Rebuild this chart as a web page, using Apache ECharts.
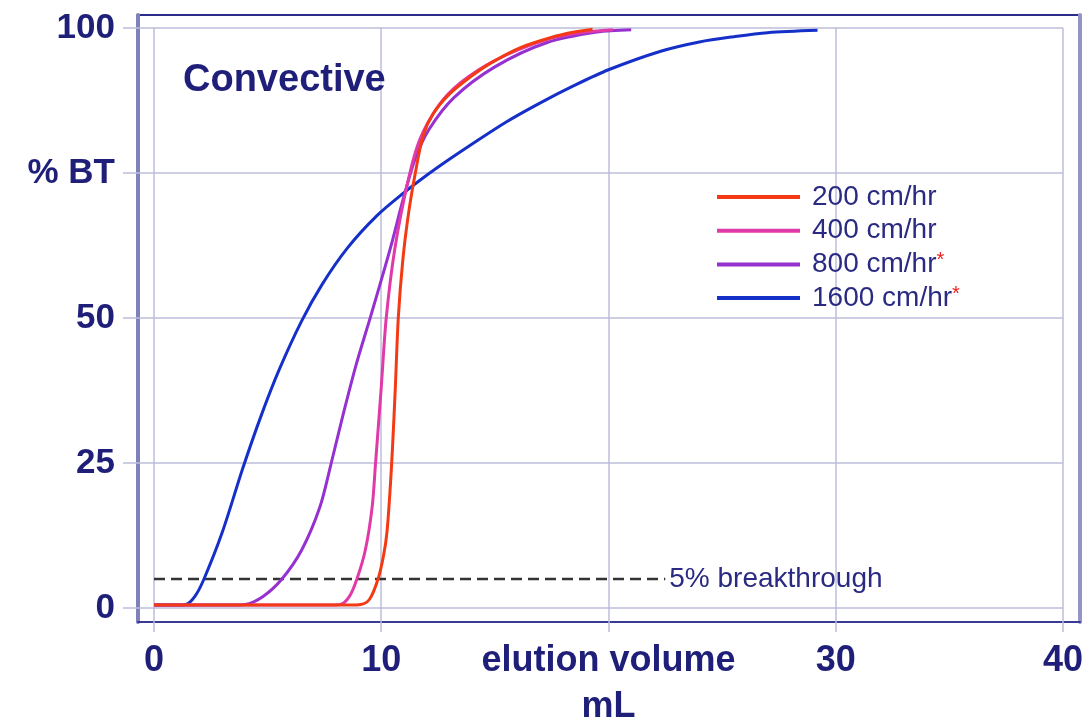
<!DOCTYPE html>
<html>
<head>
<meta charset="utf-8">
<script src="https://cdn.jsdelivr.net/npm/echarts@6/dist/echarts.min.js"></script>
<style>
html,body{margin:0;padding:0;background:#fff;}
#c{width:1084px;height:721px;}
</style>
</head>
<body>
<div id="c"></div>
<script>
// ---- data ----
const xTicks = [0, 10, 20, 30, 40];
const yTicks = [0, 25, 50, 75, 100];
const seriesNames = ['200 cm/hr', '400 cm/hr', '800 cm/hr', '1600 cm/hr'];
const starred = ['800 cm/hr', '1600 cm/hr'];

const red200 = [[0,0.5],[8.6,0.5],[9.1,0.6],[9.5,1.6],[9.86,5],[10.1,9],[10.25,13],[10.4,21],[10.5,28],[10.62,38],[10.75,50],[10.95,60],[11.2,68],[11.5,75],[11.85,81.5],[12.3,85.3],[13,88.6],[14,91.8],[14.8,93.9],[16,96.4],[17,97.8],[18.2,99.1],[19.3,99.8]];
const pink400 = [[0,0.5],[7.7,0.5],[8.2,0.6],[8.6,2],[8.93,5],[9.3,10],[9.6,17.4],[9.75,25],[10.0,38],[10.22,50],[10.6,62],[11.2,74],[11.7,80.8],[12.5,86.5],[13.5,90.6],[15,94.4],[17.2,97.9],[18.8,99.2],[20.2,99.7]];
const purple800 = [[0,0.5],[3.4,0.5],[4.0,0.6],[4.8,2],[5.63,5],[6.5,10],[7.3,17.4],[7.8,25],[8.3,33],[8.9,42],[9.55,50.5],[10.4,62],[11.0,71],[11.5,77.5],[12.1,82.5],[13.2,88],[15,93.3],[17.3,97.5],[19.5,99.3],[21,99.7]];
const blue1600 = [[0,0.5],[1.0,0.5],[1.4,0.6],[1.8,2],[2.2,5],[3,13],[3.9,24],[4.7,33],[5.5,41],[6.5,49.5],[7.4,55.8],[8.5,62],[9.8,67.6],[11,71.6],[12,74.6],[12.9,77.1],[14,80],[15.5,83.8],[17,87.1],[18.5,90.1],[20,92.8],[22.3,96],[24,97.6],[25.5,98.5],[27,99.2],[29.2,99.6]];
const breakthrough = [[0,5],[22.5,5]];
const breakthroughLabel = '5% breakthrough';
const panelTitle = 'Convective';
const xName = 'elution volume\nmL';
const yName = '% BT';

// axis extents (frame extends slightly beyond the data grid)
const XMIN = -0.704, XMAX = 40.75, YMIN = -2.41, YMAX = 102.24;

const navy = '#1f1f7a';
const gridColor = '#bcbcdb';
const colors = {'200 cm/hr':'#f43a14','400 cm/hr':'#e03aa8','800 cm/hr':'#9630d0','1600 cm/hr':'#1530c8'};

const gridLines = [];
xTicks.forEach(v => gridLines.push([{coord:[v, YMIN]}, {coord:[v, 100]}]));
yTicks.forEach(v => gridLines.push([{coord:[XMIN, v]}, {coord:[40, v]}]));

function curve(name, data, z) {
  return {
    name, type: 'line', data, z,
    showSymbol: false, smooth: 0.3,
    color: colors[name],
    lineStyle: {width: 3, color: colors[name]},
    emphasis: {disabled: true}
  };
}

const font = 'Liberation Sans, Arial, sans-serif';
const chart = echarts.init(document.getElementById('c'));
chart.setOption({
  animation: false,
  title: {
    text: panelTitle, left: 183, top: 62, padding: 0,
    textStyle: {color: navy, fontSize: 38, fontWeight: 'bold', fontFamily: font}
  },
  legend: {
    data: seriesNames,
    orient: 'vertical', left: 717, top: 183, padding: 0,
    icon: 'rect', itemWidth: 83, itemHeight: 4, itemGap: 5.7,
    formatter: n => starred.includes(n) ? n + '{s|*}' : n,
    textStyle: {
      color: '#2a2a82', fontSize: 28, lineHeight: 26, padding: [0,0,0,7],
      fontFamily: font,
      rich: {s: {color: '#ee2222', fontSize: 20, padding: [0,0,8,0]}}
    }
  },
  grid: {
    left: 138, top: 15, width: 942, height: 607,
    outerBoundsMode: 'none', containLabel: false,
    show: true, borderColor: '#2c2c8a', borderWidth: 2
  },
  xAxis: {
    type: 'value', min: XMIN, max: XMAX,
    axisLine: {show: true, onZero: false, lineStyle: {color: '#3a3a96', width: 2}},
    axisTick: {show: true, customValues: xTicks, length: 10, lineStyle: {color: gridColor, width: 1.5}},
    axisLabel: {
      customValues: xTicks, margin: 16,
      formatter: v => v === 20 ? xName : String(v),
      color: navy, fontSize: 36, fontWeight: 'bold', lineHeight: 46,
      fontFamily: font
    },
    splitLine: {show: false}
  },
  yAxis: [{
    type: 'value', min: YMIN, max: YMAX,
    axisLine: {show: true, onZero: false, lineStyle: {color: '#8080ba', width: 4}},
    axisTick: {show: true, customValues: yTicks, length: 15, lineStyle: {color: gridColor, width: 1.5}},
    axisLabel: {
      customValues: yTicks, margin: 23,
      formatter: v => v === 75 ? yName : String(v),
      color: navy, fontSize: 35, fontWeight: 'bold',
      fontFamily: font
    },
    splitLine: {show: false}
  }, {
    type: 'value', min: YMIN, max: YMAX, position: 'right',
    axisLine: {show: true, onZero: false, lineStyle: {color: '#9494c6', width: 4}},
    axisTick: {show: false}, axisLabel: {show: false}, splitLine: {show: false}
  }],
  series: [
    {
      name: 'breakthrough', type: 'line', data: breakthrough, z: 3,
      showSymbol: false, silent: true,
      lineStyle: {color: '#333333', width: 2.5, type: [11, 6]},
      endLabel: {
        show: true, formatter: breakthroughLabel, distance: 4,
        color: '#2a2a82', fontSize: 28, fontFamily: font
      },
      markLine: {
        silent: true, symbol: 'none', animation: false, z: 1,
        label: {show: false},
        lineStyle: {color: gridColor, width: 1.5, type: 'solid'},
        emphasis: {disabled: true},
        data: gridLines
      }
    },
    curve('1600 cm/hr', blue1600, 4),
    curve('800 cm/hr', purple800, 5),
    curve('400 cm/hr', pink400, 6),
    curve('200 cm/hr', red200, 7)
  ]
});
</script>
</body>
</html>
